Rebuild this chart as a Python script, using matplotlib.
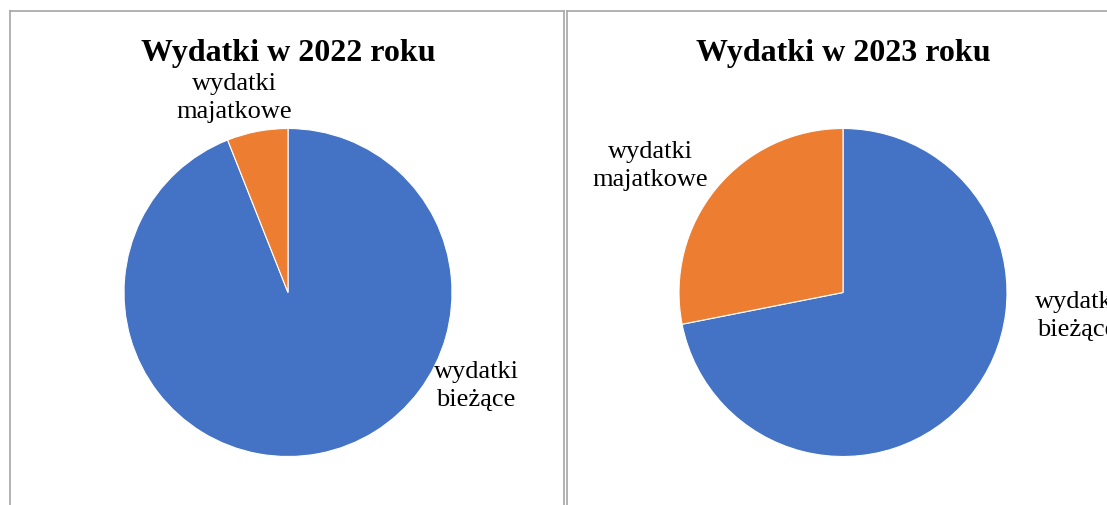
import matplotlib.pyplot as plt
from matplotlib.lines import Line2D

W, H = 1107, 506

years = ["2022", "2023"]
categories = ["wydatki\nbieżące", "wydatki\nmajatkowe"]
shares_2022 = [94.0, 6.0]
shares_2023 = [71.9, 28.1]
colors = ["#4472C4", "#ED7D31"]

plt.rcParams['font.family'] = ['Liberation Serif', 'DejaVu Serif']

fig = plt.figure(figsize=(W / 100, H / 100), dpi=100)


def px(x, y):
    return x / W, 1 - y / H


# panel borders
border = "#A6A6A6"
for seg in [((10, 12), (10, 506)), ((10, 12), (564, 12)), ((564, 12), (564, 506)),
            ((567, 12), (567, 506)), ((567, 12), (1107, 12))]:
    (x0, y0), (x1, y1) = seg
    a, b = px(x0, y0)
    c, d = px(x1, y1)
    fig.add_artist(Line2D([a, c], [b, d], color=border, lw=1.2))

panels = [
    # center x, center y, radius, shares, majatkowe label pos, biezace label pos
    (288, 293.5, 164, shares_2022, (234, 98), (476, 386)),
    (843, 293.5, 164, shares_2023, (650, 166), (1077, 316)),
]

for year, (cx, cy, r, shares, lab_m, lab_b) in zip(years, panels):
    ax = fig.add_axes([(cx - r) / W, (H - cy - r) / H, 2 * r / W, 2 * r / H])
    ax.pie(shares, colors=colors, startangle=90, counterclock=False,
           wedgeprops=dict(edgecolor="white", linewidth=0.8))
    ax.set_aspect("auto")
    ax.set_xlim(-1, 1)
    ax.set_ylim(-1, 1)
    ax.axis("off")

    fig.text(*px(cx, 53), f"Wydatki w {year} roku", ha="center", va="center",
             fontsize=23, fontweight="bold")
    fig.text(*px(*lab_m), categories[1], ha="center", va="center",
             fontsize=19, linespacing=1.3)
    fig.text(*px(*lab_b), categories[0], ha="center", va="center",
             fontsize=19, linespacing=1.3)

fig.savefig("out.png", dpi=100)
